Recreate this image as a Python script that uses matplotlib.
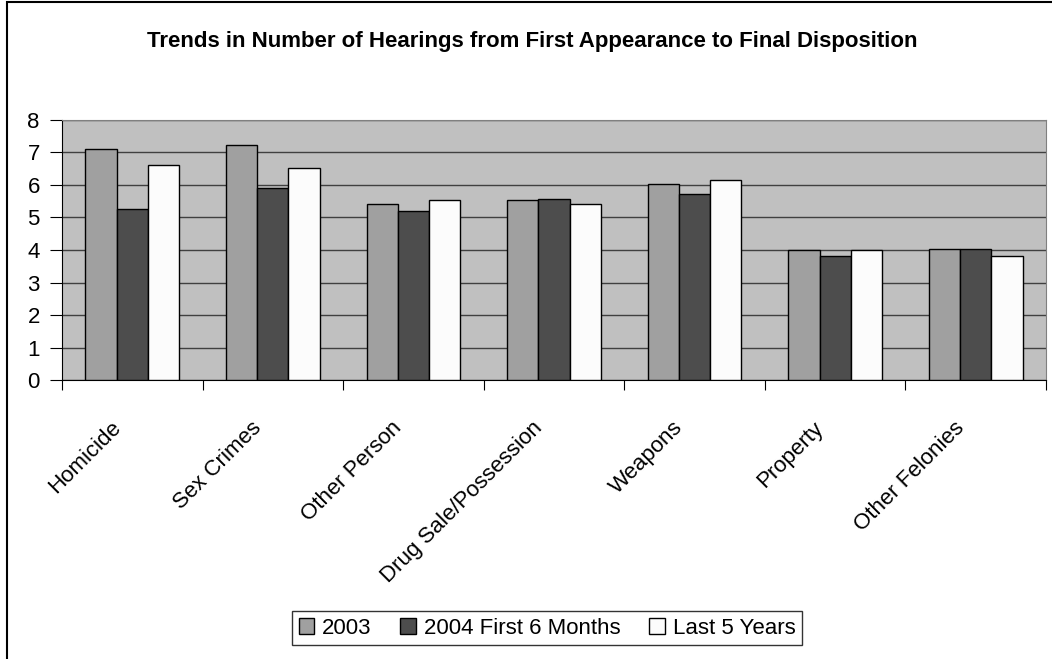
import matplotlib
matplotlib.use("Agg")
import matplotlib.pyplot as plt
import matplotlib.transforms as mtransforms
from matplotlib.patches import Rectangle
import numpy as np

# Chart data
categories = ["Homicide", "Sex Crimes", "Other Person", "Drug Sale/Possession",
              "Weapons", "Property", "Other Felonies"]
series_names = ["2003", "2004 First 6 Months", "Last 5 Years"]
vals_2003 = [7.10, 7.23, 5.42, 5.54, 6.03, 3.99, 4.03]
vals_2004 = [5.25, 5.91, 5.21, 5.58, 5.71, 3.83, 4.03]
vals_5yr = [6.60, 6.52, 5.54, 5.42, 6.15, 3.99, 3.83]
y_ticks = [0, 1, 2, 3, 4, 5, 6, 7, 8]

colors = ["#a0a0a0", "#4d4d4d", "#fcfcfc"]
plt.rcParams["font.family"] = ["Liberation Sans Narrow", "Liberation Sans", "DejaVu Sans"]

W, H = 1052, 659
fig = plt.figure(figsize=(W / 100, H / 100), dpi=100)

# outer chart border (left and top visible)
fig.patches.append(Rectangle((7 / W, -0.1), 1.2, 1 - 2 / H + 0.1, transform=fig.transFigure,
                             fill=False, edgecolor="black", linewidth=1.5))

ax = fig.add_axes([62 / W, (H - 380.3) / H, 984 / W, 260.6 / H])
ax.set_facecolor("#c0c0c0")

x = np.arange(len(categories))
bw = 0.222
for i, (vals, name) in enumerate(zip([vals_2003, vals_2004, vals_5yr], series_names)):
    ax.bar(x + (i - 1) * bw, vals, width=bw, color=colors[i], edgecolor="black",
           linewidth=1, label=name, zorder=3)

ax.set_xlim(-0.5, len(categories) - 0.5)
ax.set_ylim(0, 8)
ax.set_yticks(y_ticks)
ax.set_yticklabels([str(t) for t in y_ticks], fontsize=16)
ax.yaxis.grid(True, color="#404040", linewidth=1, zorder=1)
ax.set_axisbelow(True)

ax.set_xticks(np.arange(-0.5, len(categories)), labels=[])
ax.tick_params(axis="x", direction="out", length=7, color="black")
ax.tick_params(axis="y", direction="out", length=9, color="black", pad=7)

for s in ["top", "right"]:
    ax.spines[s].set_color("#808080")
ax.spines["left"].set_color("black")
ax.spines["bottom"].set_color("black")

# rotated category labels
trans = ax.get_xaxis_transform() + mtransforms.ScaledTranslation(-22 / 100, -37 / 100, fig.dpi_scale_trans)
for xi, cat in zip(x, categories):
    ax.text(xi, 0, cat, transform=trans, rotation=45, rotation_mode="anchor",
            ha="right", va="top", fontsize=16)

fig.text(0.5 + 6 / W, 1 - 42 / H, "Trends in Number of Hearings from First Appearance to Final Disposition",
         ha="center", va="center", fontsize=16, fontweight="bold")

leg = fig.legend(loc="center", bbox_to_anchor=(547 / W, 1 - 628 / H), ncol=3, fontsize=16,
                 frameon=True, fancybox=False, edgecolor="black", handlelength=0.7,
                 handleheight=0.7, handletextpad=0.35, columnspacing=1.3, borderpad=0.3)
leg.get_frame().set_linewidth(1)

fig.savefig("out.png", dpi=100)
